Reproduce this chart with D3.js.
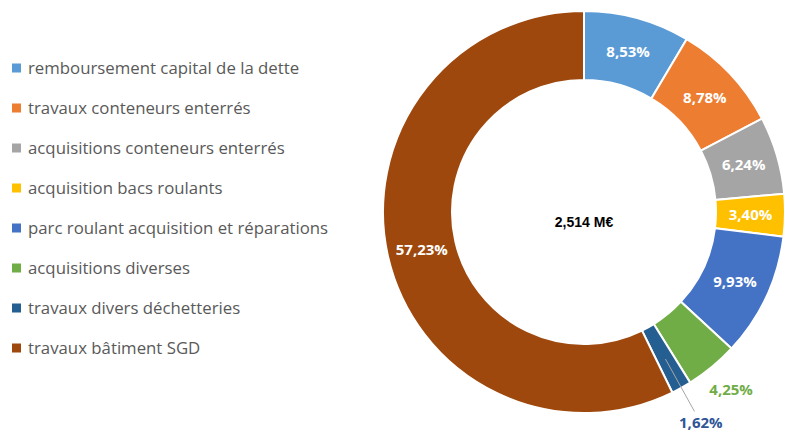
<!DOCTYPE html>
<html>
<head>
<meta charset="utf-8">
<script src="https://cdn.jsdelivr.net/npm/d3@7"></script>
<style>
  body { margin: 0; background: #fff; }
  svg { display: block; }
</style>
</head>
<body>
<svg id="chart" width="797" height="432"></svg>
<script>
// Data
const categories = [
  'remboursement capital de la dette',
  'travaux conteneurs enterrés',
  'acquisitions conteneurs enterrés',
  'acquisition bacs roulants',
  'parc roulant acquisition et réparations',
  'acquisitions diverses',
  'travaux divers déchetteries',
  'travaux bâtiment SGD'
];
const shares = [8.53, 8.78, 6.24, 3.40, 9.93, 4.25, 1.62, 57.23];
const labels = ['8,53%', '8,78%', '6,24%', '3,40%', '9,93%', '4,25%', '1,62%', '57,23%'];
const colorList = ['#5B9BD5', '#ED7D31', '#A5A5A5', '#FFC000', '#4472C4', '#70AD47', '#255E91', '#9E480E'];
const totalLabel = '2,514 M€';

const data = categories.map((c, i) => ({ name: c, value: shares[i], label: labels[i] }));

const svg = d3.select('#chart');
const cx = 584, cy = 212;
const outerR = 201, innerR = 132;

const color = d3.scaleOrdinal().domain(categories).range(colorList);

const pie = d3.pie().value(d => d.value).sort(null);
const arcs = pie(data);
const arc = d3.arc().innerRadius(innerR).outerRadius(outerR);
const midArc = d3.arc().innerRadius((innerR + outerR) / 2).outerRadius((innerR + outerR) / 2);

const g = svg.append('g').attr('transform', `translate(${cx},${cy})`);

// Slices
g.selectAll('path.slice')
  .data(arcs)
  .join('path')
  .attr('class', 'slice')
  .attr('d', arc)
  .attr('fill', d => color(d.data.name))
  .attr('stroke', '#fff')
  .attr('stroke-width', 2);

// Point at a given radius on the slice's mid angle
function polar(d, r) {
  const a = (d.startAngle + d.endAngle) / 2;
  return [r * Math.sin(a), -r * Math.cos(a)];
}

// Small slices get labels outside
const outside = { 'acquisitions diverses': 231, 'travaux divers déchetteries': 241 };

// Leader line for the smallest slice
arcs.filter(d => d.data.name === 'travaux divers déchetteries').forEach(d => {
  const p1 = polar(d, 168), p2 = polar(d, 228);
  g.append('line')
    .attr('x1', p1[0]).attr('y1', p1[1])
    .attr('x2', p2[0]).attr('y2', p2[1])
    .attr('stroke', '#A6A6A6')
    .attr('stroke-width', 1);
});

g.selectAll('text.pct')
  .data(arcs)
  .join('text')
  .attr('class', 'pct')
  .attr('transform', d => {
    const p = outside[d.data.name] ? polar(d, outside[d.data.name]) : midArc.centroid(d);
    return `translate(${p[0]},${p[1]})`;
  })
  .attr('text-anchor', 'middle')
  .attr('dy', '0.35em')
  .attr('font-family', 'Open Sans, sans-serif')
  .attr('font-weight', 'bold')
  .attr('font-size', 15)
  .attr('fill', d => outside[d.data.name] ? (d.data.name === 'travaux divers déchetteries' ? '#2F5597' : color(d.data.name)) : '#fff')
  .text(d => d.data.label);

// Center total
g.append('text')
  .attr('y', 10)
  .attr('dy', '0.35em')
  .attr('text-anchor', 'middle')
  .attr('font-family', 'Liberation Sans, Arial, sans-serif')
  .attr('font-weight', 'bold')
  .attr('font-size', 14)
  .attr('fill', '#000')
  .text(totalLabel);

// Legend
const legendY = d3.scalePoint().domain(categories).range([68, 348]);
const legend = svg.append('g')
  .selectAll('g')
  .data(categories)
  .join('g')
  .attr('transform', d => `translate(12,${legendY(d)})`);

legend.append('rect')
  .attr('x', 0).attr('y', -4.5)
  .attr('width', 9).attr('height', 9)
  .attr('fill', d => color(d));

legend.append('text')
  .attr('x', 16)
  .attr('dy', '0.35em')
  .attr('font-family', 'Open Sans, sans-serif')
  .attr('font-size', 16.8)
  .attr('fill', '#595959')
  .text(d => d);
</script>
</body>
</html>
